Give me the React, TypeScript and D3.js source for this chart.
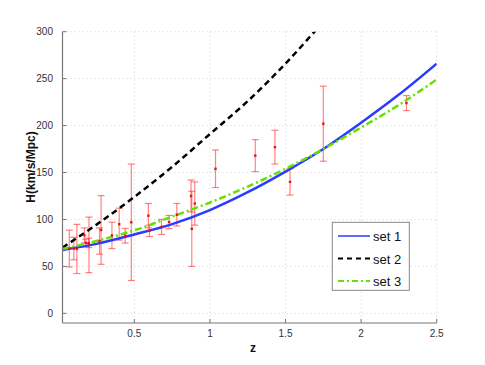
import React from 'react';
import * as d3 from 'd3';

// observational H(z) points: z, H, sigma
const obsZ = [0.07, 0.1, 0.12, 0.17, 0.179, 0.199, 0.2, 0.27, 0.28, 0.352, 0.4, 0.44, 0.48, 0.593, 0.6, 0.68, 0.73, 0.781, 0.875, 0.88, 0.9, 1.037, 1.3, 1.43, 1.53, 1.75, 2.3];
const obsH = [69, 69, 68.6, 83, 75, 75, 72.9, 77, 88.8, 83, 95, 82.6, 97, 104, 87.9, 92, 97.3, 105, 125, 90, 117, 154, 168, 177, 140, 202, 224];
const obsErr = [19.6, 12, 26.2, 8, 4, 5, 29.6, 14, 36.6, 14, 17, 7.8, 62, 13, 6.1, 8, 7, 12, 17, 40, 23, 20, 17, 18, 14, 40, 8];

// model curves
const curveZ = [0.025, 0.25, 0.5, 0.75, 1.0, 1.25, 1.5, 1.75, 2.0, 2.25, 2.5];
const set1 = [67.5, 74, 84, 95, 110, 129, 151, 175, 203, 233, 266];
const set2 = [70, 94.5, 124, 156, 191, 226, 266, 310, 350, 395, 440];
const set3 = [68.5, 77, 88.5, 103, 118, 135, 154, 175, 198, 222, 249];

const xTicks = [0.5, 1, 1.5, 2, 2.5];
const yTicks = [0, 50, 100, 150, 200, 250, 300];

const W = 485, H = 365;
const L = 62.5, R = 436.7, T = 31.7, B = 323;

export default function App() {
  const x = d3.scaleLinear().domain([0.025, 2.5]).range([L, R]);
  const y = d3.scaleLinear().domain([-10.3, 300]).range([B, T]);
  const line = d3.line<number>()
    .x((_, i) => x(curveZ[i]))
    .y(d => y(d))
    .curve(d3.curveMonotoneX);

  const series = [
    { name: 'set 1', data: set1, color: '#2a3cff', dash: undefined as string | undefined },
    { name: 'set 2', data: set2, color: '#000000', dash: '6,4' },
    { name: 'set 3', data: set3, color: '#66e000', dash: '7,3,2,3' },
  ];

  const font = '"Liberation Sans", Arial, Helvetica, sans-serif';
  const errColor = 'rgba(255,30,30,0.55)';

  return (
    <svg width={W} height={H} style={{ position: 'absolute', left: 0, top: 0, background: '#fff' }} fontFamily={font}>
      <defs>
        <clipPath id="plot">
          <rect x={L} y={T} width={R - L} height={B - T} />
        </clipPath>
      </defs>
      {/* grid */}
      {xTicks.map(t => (
        <line key={'gx' + t} x1={x(t)} x2={x(t)} y1={T} y2={B} stroke="#c8c8c8" strokeWidth={0.8} strokeDasharray="1,3" />
      ))}
      {yTicks.map(t => (
        <line key={'gy' + t} x1={L} x2={R} y1={y(t)} y2={y(t)} stroke="#c8c8c8" strokeWidth={0.8} strokeDasharray="1,3" />
      ))}

      {/* error bars */}
      {obsZ.map((z, i) => {
        const cx = x(z);
        const y1 = y(obsH[i] + obsErr[i]);
        const y2 = y(obsH[i] - obsErr[i]);
        return (
          <g key={'e' + i}>
            <line x1={cx} x2={cx} y1={y1} y2={y2} stroke={errColor} strokeWidth={1.2} />
            <line x1={cx - 3.5} x2={cx + 3.5} y1={y1} y2={y1} stroke={errColor} strokeWidth={1.2} />
            <line x1={cx - 3.5} x2={cx + 3.5} y1={y2} y2={y2} stroke={errColor} strokeWidth={1.2} />
          </g>
        );
      })}

      {/* curves */}
      <g clipPath="url(#plot)">
        {series.map(s => (
          <path key={s.name} d={line(s.data) || ''} fill="none" stroke={s.color} strokeWidth={2.5} strokeDasharray={s.dash} />
        ))}
      </g>

      {/* data markers */}
      {obsZ.map((z, i) => (
        <rect key={'p' + i} x={x(z) - 1.2} y={y(obsH[i]) - 1.2} width={2.4} height={2.4} fill="#ee1111" />
      ))}

      {/* axes */}
      <line x1={L} x2={L} y1={T} y2={B} stroke="#777" strokeWidth={1.2} />
      <line x1={L} x2={R} y1={B} y2={B} stroke="#777" strokeWidth={1.2} />
      {xTicks.map(t => (
        <g key={'xt' + t}>
          <line x1={x(t)} x2={x(t)} y1={B} y2={B - 4} stroke="#777" strokeWidth={1} />
          <text x={x(t)} y={337} fontSize={10} fill="#333" textAnchor="middle">{t}</text>
        </g>
      ))}
      {yTicks.map(t => (
        <g key={'yt' + t}>
          <line x1={L} x2={L + 4} y1={y(t)} y2={y(t)} stroke="#777" strokeWidth={1} />
          <text x={53} y={y(t) + 3.5} fontSize={10} fill="#333" textAnchor="end">{t}</text>
        </g>
      ))}
      <text x={253} y={352} fontSize={12} fontWeight="bold" textAnchor="middle" fill="#111">z</text>
      <text transform={`translate(35,167) rotate(-90)`} fontSize={12} fontWeight="bold" textAnchor="middle" fill="#111">H(km/s/Mpc)</text>

      {/* legend */}
      <rect x={332.3} y={222.3} width={77} height={68} fill="#fff" stroke="#888" strokeWidth={1} />
      {series.map((s, i) => {
        const ly = 236 + i * 22.5;
        return (
          <g key={'l' + s.name}>
            <line x1={338} x2={370} y1={ly} y2={ly} stroke={s.color} strokeWidth={s.name === 'set 1' ? 1.5 : 2} strokeDasharray={s.name === 'set 2' ? '5,4' : s.name === 'set 3' ? '6,3,2,3' : undefined} />
            <text x={373} y={ly + 5} fontSize={13} fill="#111">{s.name}</text>
          </g>
        );
      })}
    </svg>
  );
}
